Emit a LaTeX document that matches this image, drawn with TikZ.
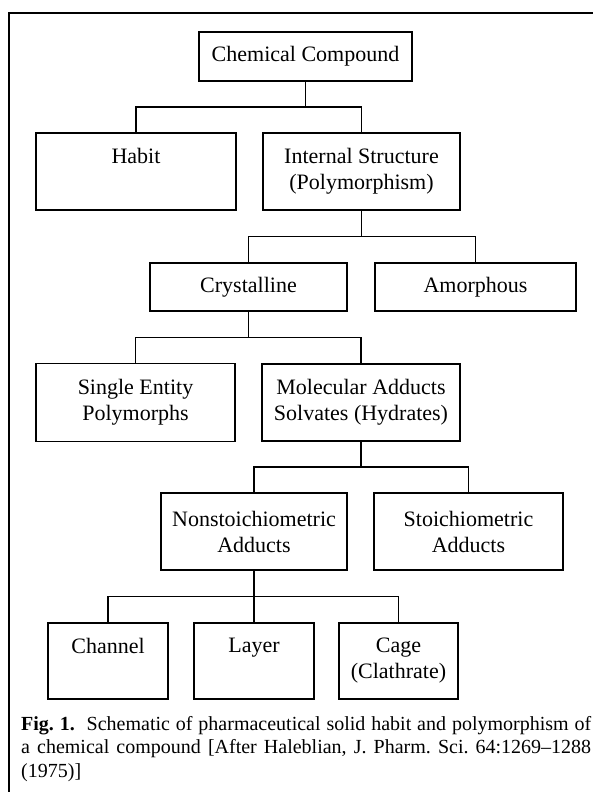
\documentclass[tikz,border=0pt]{standalone}
\usepackage{fontspec}
\setmainfont{Liberation Serif}
\usetikzlibrary{calc}

\begin{document}
\begin{tikzpicture}[x=1pt,y=-1pt,
    box/.style={draw,line width=1.5pt,align=center,inner sep=0pt,
      font=\fontsize{22}{26}\selectfont},
    tall/.style={box,minimum width=199pt,minimum height=77pt},
    flat/.style={box,minimum width=199pt,minimum height=48pt},
    small/.style={box,minimum width=120pt,minimum height=76pt},
    link/.style={line width=1.4pt},
    tree/.style={to path={(\tikztostart) |-
      ($(\tikztostart)!.5!(\tikztotarget)$) -| (\tikztotarget)}}]
    \useasboundingbox (0,0) rectangle (593,792);
    \draw[line width=2pt] (593,13) -- (9,13) -- (9,792); %frame
    % levels of the tree
    \node[flat,minimum width=213pt,minimum height=49pt] (cc) at (305.5,56.5) {Chemical Compound};
    \node[tall,minimum width=200pt] (habit) at (136,171.5) {Habit\\\phantom{(}};
    \node[tall,minimum width=197pt] (internal) at (361.5,171.5) {Internal Structure\\(Polymorphism)};
    \node[flat,minimum width=197pt] (cryst) at (248.5,287) {Crystalline};
    \node[flat,minimum width=201pt] (amorph) at (475.5,287) {Amorphous};
    \node[tall,minimum height=78pt] (single) at (135.5,402.5) {Single Entity\\Polymorphs};
    \node[tall,minimum width=198pt] (molec) at (361,402.5) {Molecular Adducts\\Solvates (Hydrates)};
    \node[tall,minimum width=186pt] (nonst) at (254,531.5) {Nonstoichiometric\\Adducts};
    \node[tall,minimum width=189pt] (stoich) at (468.5,531.5) {Stoichiometric\\Adducts};
    \node[small] (channel) at (108,661) {Channel\\\phantom{(}};
    \node[small] (layer) at (254,661) {Layer\\\phantom{(}};
    \node[small,minimum width=119pt] (cage) at (398.5,661) {Cage\\(Clathrate)};
    % connectors
    \draw[link] (cc.south) to[tree] (habit.north) (cc.south) to[tree] (internal.north);
    \draw[link] (internal.south) to[tree] (cryst.north) (internal.south) to[tree] (amorph.north);
    \draw[link] (cryst.south) to[tree] (single.north) (cryst.south) to[tree] (molec.north);
    \draw[link] (molec.south) to[tree] (nonst.north) (molec.south) to[tree] (stoich.north);
    \draw[link] (nonst.south) to[tree] (channel.north) (nonst.south) to[tree] (layer.north)
          (nonst.south) to[tree] (cage.north);
    % caption
    \node[anchor=north west,inner sep=0pt,align=left,
      font=\fontsize{20}{23.5}\selectfont\frenchspacing]
      (caption) at (21,716)
      {\makebox[570pt][s]{\textbf{Fig. 1.}\ \ Schematic of pharmaceutical solid habit and polymorphism of}\\
       \makebox[570pt][s]{a chemical compound [After Haleblian, J. Pharm. Sci. 64:1269--1288}\\
       (1975)]};
\end{tikzpicture}
\end{document}
